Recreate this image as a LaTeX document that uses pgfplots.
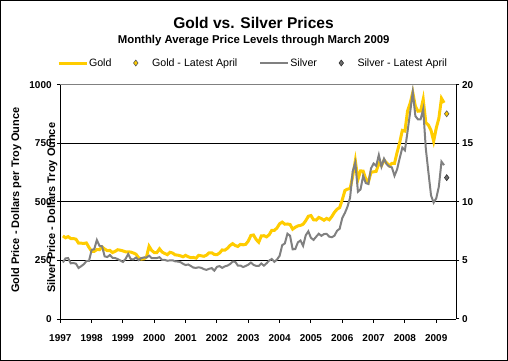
\documentclass[border=0pt]{standalone}
\usepackage{pgfplots}
\pgfplotsset{compat=1.18}
\usepackage{pgfplotstable}
\usepackage{fontspec}
\setmainfont{Liberation Sans}
\definecolor{goldc}{RGB}{255,204,0}
\definecolor{silverc}{RGB}{128,128,128}
\pgfplotsset{
  mylineleg/.style={legend image code/.code={\draw[##1] (0bp,0bp) -- (28bp,0bp);}},
  mydiamleg/.style={legend image code/.code={\draw[mark repeat=2, mark phase=2, ##1, draw=none] plot coordinates {(0bp,0bp) (14bp,0bp) (28bp,0bp)};}},
}
\pgfplotstableread{
yr mo g s
1997 1 355 4.83
1997 2 347 5.18
1997 3 352 5.21
1997 4 344 4.76
1997 5 344 4.78
1997 6 341 4.73
1997 7 324 4.36
1997 8 324 4.51
1997 9 323 4.68
1997 10 325 4.95
1997 11 306 4.97
1997 12 289 5.90
1998 1 289 5.97
1998 2 297 6.75
1998 3 296 6.26
1998 4 308 6.21
1998 5 299 5.35
1998 6 292 5.30
1998 7 293 5.47
1998 8 284 5.23
1998 9 289 5.21
1998 10 296 5.12
1998 11 294 5.00
1998 12 291 4.88
1999 1 287 5.14
1999 2 287 5.55
1999 3 286 5.12
1999 4 282 5.09
1999 5 277 5.25
1999 6 262 5.03
1999 7 256 5.20
1999 8 257 5.26
1999 9 265 5.25
1999 10 311 5.41
1999 11 293 5.20
1999 12 284 5.20
2000 1 284 5.21
2000 2 300 5.28
2000 3 286 5.06
2000 4 280 5.05
2000 5 275 4.98
2000 6 285 5.01
2000 7 282 5.02
2000 8 274 4.93
2000 9 273 4.91
2000 10 270 4.86
2000 11 266 4.72
2000 12 272 4.61
2001 1 266 4.66
2001 2 262 4.53
2001 3 263 4.39
2001 4 260 4.37
2001 5 272 4.42
2001 6 270 4.37
2001 7 268 4.26
2001 8 273 4.20
2001 9 283 4.29
2001 10 283 4.35
2001 11 276 4.13
2001 12 275 4.46
2002 1 282 4.52
2002 2 295 4.37
2002 3 294 4.50
2002 4 302 4.56
2002 5 314 4.69
2002 6 322 4.90
2002 7 314 4.89
2002 8 310 4.57
2002 9 319 4.57
2002 10 317 4.44
2002 11 319 4.53
2002 12 333 4.64
2003 1 357 4.82
2003 2 359 4.63
2003 3 340 4.54
2003 4 328 4.53
2003 5 355 4.74
2003 6 356 4.56
2003 7 351 4.76
2003 8 360 4.99
2003 9 379 5.13
2003 10 379 4.89
2003 11 389 5.08
2003 12 407 5.40
2004 1 414 6.31
2004 2 405 6.46
2004 3 406 7.29
2004 4 404 7.12
2004 5 384 5.95
2004 6 392 5.98
2004 7 398 6.55
2004 8 400 6.71
2004 9 405 6.26
2004 10 420 7.15
2004 11 439 7.49
2004 12 442 6.94
2005 1 424 6.76
2005 2 423 7.03
2005 3 434 7.29
2005 4 429 7.11
2005 5 422 7.26
2005 6 430 7.28
2005 7 424 7.04
2005 8 438 6.99
2005 9 456 7.12
2005 10 469 7.54
2005 11 476 7.71
2005 12 509 8.63
2006 1 549 9.06
2006 2 555 9.60
2006 3 557 10.38
2006 4 610 12.61
2006 5 676 13.38
2006 6 596 10.88
2006 7 633 11.08
2006 8 632 12.24
2006 9 598 11.62
2006 10 585 11.54
2006 11 627 12.87
2006 12 629 13.29
2007 1 631 13.09
2007 2 665 14.02
2007 3 655 13.02
2007 4 679 13.70
2007 5 667 13.23
2007 6 655 13.03
2007 7 665 12.96
2007 8 665 12.24
2007 9 712 12.79
2007 10 754 13.75
2007 11 806 14.65
2007 12 803 14.42
2008 1 889 16.02
2008 2 922 17.68
2008 3 968 19.41
2008 4 909 17.34
2008 5 888 17.06
2008 6 889 17.07
2008 7 939 17.94
2008 8 839 14.55
2008 9 829 12.53
2008 10 806 10.56
2008 11 760 9.95
2008 12 816 10.32
2009 1 858 11.33
2009 2 943 13.45
2009 3 924 13.15
}\prices
\pgfplotstableread{
x g s
2009.3333 877 12.08
}\latest
\begin{document}
\begin{tikzpicture}
\draw[line width=1bp] (0.5bp,0.5bp) rectangle (507.5bp,360.5bp);
\node[anchor=base, inner sep=0pt, font=\fontsize{15.6}{18}\selectfont\bfseries] at (253.5bp,332.7bp) {Gold vs. Silver Prices};
\node[anchor=base, inner sep=0pt, font=\fontsize{11.4}{13}\selectfont\bfseries] at (253.7bp,317bp) {Monthly Average Price Levels through March 2009};
\node[rotate=90, anchor=base west, inner sep=0pt, font=\fontsize{11}{13}\selectfont\bfseries] at (19bp,68bp) {Gold Price - Dollars per Troy Ounce};
\node[rotate=90, anchor=base west, inner sep=0pt, font=\fontsize{11}{13}\selectfont\bfseries] at (55bp,68bp) {Silver Price - Dollars Troy Ounce};
\begin{axis}[
  at={(60.3bp,42bp)}, anchor=south west, scale only axis,
  width=395.7bp, height=234bp,
  xmin=1997, xmax=2009.63, ymin=0, ymax=1000,
  axis x line*=bottom, axis y line*=left,
  axis line style={line width=1bp, black},
  xtick={1997,...,2009},
  ytick={0,250,500,750}, extra y ticks={1000}, extra y tick style={grid=none},
  ymajorgrids, major grid style={black, line width=1bp},
  tick align=outside, major tick length=3.5bp,
  tick style={black, line width=1bp},
  /pgf/number format/1000 sep={},
  /pgf/number format/assume math mode=true,
  ticklabel style={font=\fontsize{10}{12}\selectfont\bfseries},
  xticklabel style={anchor=north, inner sep=0pt},
  yticklabel style={anchor=east, inner sep=0pt},
  xticklabel shift=12bp, yticklabel shift=5bp,
  legend columns=4,
  legend cell align=left,
  legend style={at={(axis description cs:-0.0083,1.094)}, anchor=west,
    draw=none, fill=none, inner sep=0pt, outer sep=0pt,
    font=\fontsize{10.7}{12}\selectfont,
    nodes={inner sep=1bp},
    /tikz/every even column/.append style={column sep=21bp}},
]
\addplot[goldc, line width=3bp, mylineleg] table[x expr=\thisrow{yr}+\thisrow{mo}/12, y=g] {\prices};
\addlegendentry{Gold\hspace{10bp}}
\addplot[only marks, mark=diamond*, mark size=3bp, mark options={fill=goldc, draw=gray!70!black, line width=0.6bp}, mydiamleg]
  table[x=x, y=g] {\latest};
\addlegendentry{\hspace{13bp}Gold - Latest April}
\addlegendimage{silverc, line width=2bp, mylineleg}
\addlegendentry{Silver\hspace{11bp}}
\addlegendimage{only marks, mark=diamond*, mark size=3bp, mark options={fill=silverc!85!black, draw=black!80, line width=0.6bp}, mydiamleg}
\addlegendentry{\hspace{13bp}Silver - Latest April}
\end{axis}
\begin{axis}[
  at={(60.3bp,42bp)}, anchor=south west, scale only axis,
  width=395.7bp, height=234bp,
  xmin=1997, xmax=2009.63, ymin=0, ymax=20,
  axis x line*=top, axis y line*=right,
  x axis line style={line width=1bp, silverc},
  y axis line style={line width=1bp, black},
  xtick=\empty,
  ytick={0,5,10,15,20},
  tick align=outside, major tick length=3.5bp,
  tick style={black, line width=1bp},
  /pgf/number format/assume math mode=true,
  ticklabel style={font=\fontsize{10}{12}\selectfont\bfseries},
  yticklabel style={anchor=west, inner sep=0pt},
  yticklabel shift=2.5bp,
]
\addplot[silverc, line width=2bp] table[x expr=\thisrow{yr}+\thisrow{mo}/12, y=s] {\prices};
\addplot[only marks, mark=diamond*, mark size=3bp, mark options={fill=silverc!85!black, draw=black!80, line width=0.6bp}] table[x=x, y=s] {\latest};
\end{axis}
\end{tikzpicture}
\end{document}
